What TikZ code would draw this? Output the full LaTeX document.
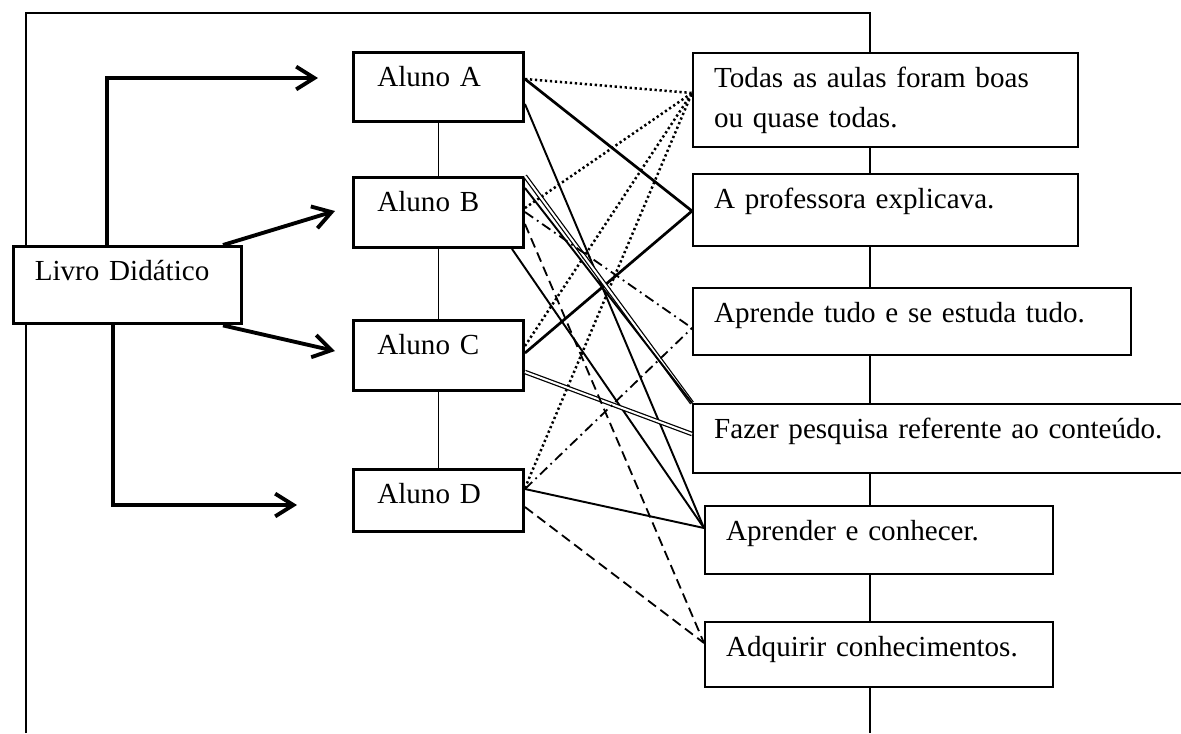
\documentclass[tikz,border=0pt]{standalone}
\usepackage{fontspec}
\setmainfont{Liberation Serif}
\usetikzlibrary{arrows.meta}

\begin{document}
\begin{tikzpicture}[x=0.44pt, y=-0.44pt, >={Straight Barb[length=8pt,width=10pt]},
		texto/.style={font=\fontsize{12.8}{17.6}\selectfont, align=left, anchor=north west, fill=white, inner ysep=0pt, text height=15pt},
		livro/.style 2 args={texto, draw=black, line width=1.5pt, inner xsep=9.3pt, text width={#1*0.44pt-18.6pt}, text depth={#2*0.44pt-15pt}},
		aluno/.style 2 args={texto, draw=black, line width=1.3pt, inner xsep=10.5pt, text width={#1*0.44pt-21pt}, text depth={#2*0.44pt-15pt}},
		resp/.style 2 args={texto, draw=black, line width=0.9pt, inner xsep=9.3pt, text width={#1*0.44pt-18.6pt}, text depth={#2*0.44pt-15pt}},
		moldura/.style={line width=0.6pt},
		seta/.style={->, line width=1.7pt},
		liga/.style={line width=0.85pt},
		ligaF/.style={line width=1.2pt},
		pont/.style={line width=1.1pt, dash pattern=on 1pt off 1.2pt},
		trac/.style={line width=0.8pt, dash pattern=on 4.4pt off 2.4pt},
		tp/.style={line width=0.8pt, dash pattern=on 4.4pt off 2pt on 0.8pt off 2pt},
		dupla/.style={double, line width=0.55pt, double distance=0.9pt}]
		
		\useasboundingbox (0,0) rectangle (1181,733);
		\draw[moldura] (26,733) |- (870,13) -- (870,733);
		
		\node[livro={228}{77}] (livro) at (12,245) {Livro Didático};
		\node[aluno={170}{69}] (alunoA) at (352,51) {Aluno A};
		\node[aluno={170}{70}] (alunoB) at (352,176) {Aluno B};
		\node[aluno={170}{70}] (alunoC) at (352,319) {Aluno C};
		\node[aluno={170}{62}] (alunoD) at (352,468) {Aluno D};
		\node[resp={385}{94}] (todas) at (692,52) {Todas as aulas foram boas\\ou quase todas.};
		\node[resp={385}{72}] (professora) at (692,173) {A professora explicava.};
		\node[resp={438}{67}] (aprende) at (692,287) {Aprende tudo e se estuda tudo.};
		\node[resp={495}{69}] (pesquisa) at (692,403) {Fazer pesquisa referente ao conteúdo.};
		\node[resp={348}{68}] (conhecer) at (704,505) {Aprender e conhecer.};
		\node[resp={348}{65}] (adquirir) at (704,621) {Adquirir conhecimentos.};
		
		\coordinate (setaA) at (318,78);
		\coordinate (setaB) at (335,211);
		\coordinate (setaC) at (335,351);
		\coordinate (setaD) at (297,505);
		\draw[seta] (107,0 |- livro.north) |- (setaA);
		\draw[seta] (223,0 |- livro.north) -- (setaB);
		\draw[seta] (223,0 |- livro.south) -- (setaC);
		\draw[seta] (113,0 |- livro.south) |- (setaD);
		
		\draw[liga] (alunoA) -- (alunoB);
		\draw[liga] (alunoB) -- (alunoC);
		\draw[liga] (alunoC) -- (alunoD);
		
		\draw[pont] (alunoA.east |- 0,79) -- (todas.west |- 0,93);
		\draw[pont] (alunoB.east |- 0,208) -- (todas.west |- 0,93);
		\draw[pont] (alunoC.east |- 0,346) -- (todas.west |- 0,93);
		\draw[pont] (alunoD.east |- 0,488) -- (todas.west |- 0,93);
		\draw[ligaF] (alunoA.east |- 0,79) -- (professora.west |- 0,211);
		\draw[ligaF] (alunoC.east |- 0,353) -- (professora.west |- 0,211);
		\draw[liga] (alunoA.east |- 0,104) -- (conhecer.west |- 0,528);
		\draw[liga] (512,0 |- alunoB.south) -- (conhecer.west |- 0,528);
		\draw[liga] (alunoD.east |- 0,489) -- (conhecer.west |- 0,528);
		\draw[dupla] (alunoB.north east) -- (pesquisa.north west);
		\draw[liga] (alunoB.east |- 0,188) -- (pesquisa.north west);
		\draw[dupla] (alunoC.east |- 0,372) -- (pesquisa.west |- 0,434);
		\draw[tp] (alunoB.east |- 0,212) -- (aprende.west |- 0,328);
		\draw[tp] (alunoD.east |- 0,489) -- (aprende.west |- 0,328);
		\draw[trac] (alunoB.east |- 0,224) -- (adquirir.west |- 0,643);
		\draw[trac] (alunoD.east |- 0,507) -- (adquirir.west |- 0,643);
	\end{tikzpicture}
\end{document}
